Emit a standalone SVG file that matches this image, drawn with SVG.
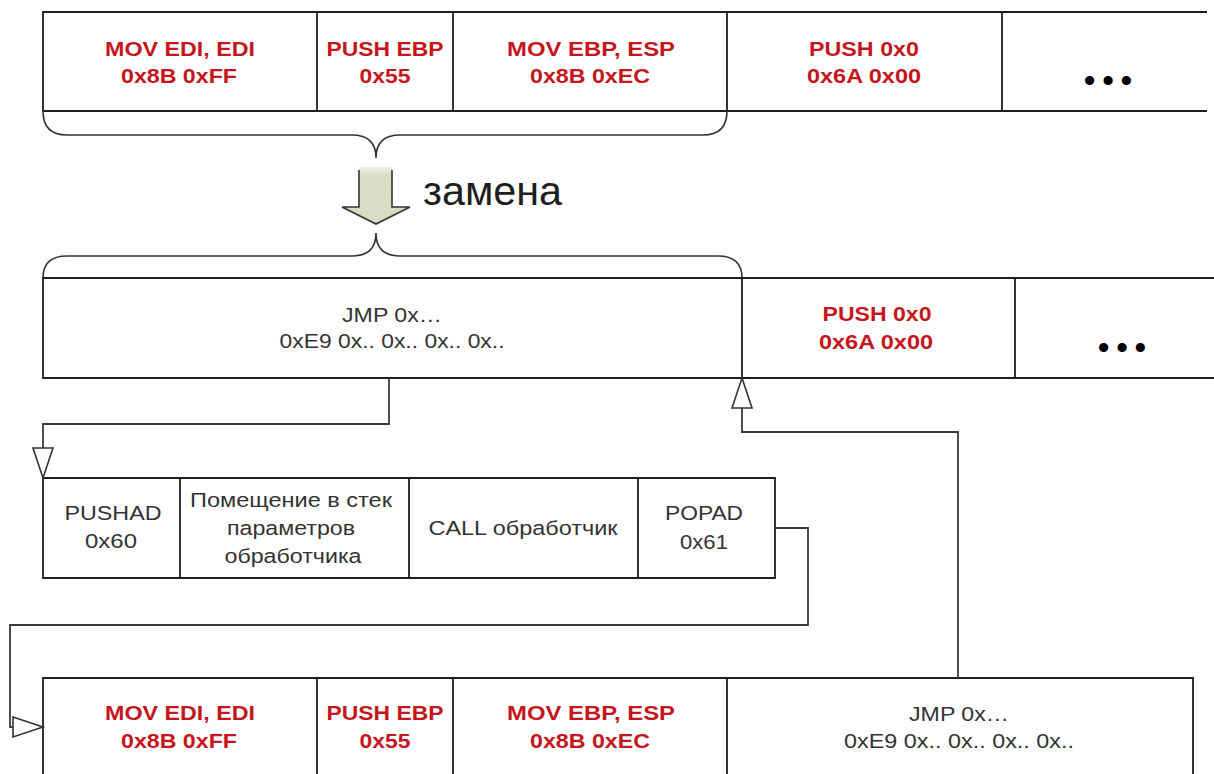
<svg xmlns="http://www.w3.org/2000/svg" width="1214" height="774" viewBox="0 0 1214 774">
<defs>
<style>
.ln{stroke:#1e1e1e;stroke-width:1.8;fill:none}
.cn{stroke:#3a3a3a;stroke-width:1.8;fill:none}
.br{stroke:#333;stroke-width:1.6;fill:none}
.r{font-family:"Liberation Sans",Arial,sans-serif;font-weight:bold;font-size:19.5px;fill:#c5161d;text-anchor:middle}
.t{font-family:"Liberation Sans",Arial,sans-serif;font-size:20.5px;fill:#333;text-anchor:middle}
.d{font-family:"Liberation Sans",Arial,sans-serif;font-weight:bold;font-size:32px;fill:#000;text-anchor:middle}
</style>
<marker id="tri" viewBox="0 0 30 20" refX="30" refY="10" markerWidth="30" markerHeight="20" markerUnits="userSpaceOnUse" orient="auto" overflow="visible">
<path d="M0,0 L30,10 L0,20 Z" fill="#fff" stroke="#333" stroke-width="1.6"/>
</marker>
<linearGradient id="ag" x1="0" y1="0" x2="0" y2="1">
<stop offset="0" stop-color="#eef0e4"/>
<stop offset="0.15" stop-color="#dbdfc7"/>
<stop offset="1" stop-color="#d8dcc3"/>
</linearGradient>
</defs>
<rect width="1214" height="774" fill="#fff"/>

<g id="original-row">
<path class="ln" d="M1207,12 H43 V111 H1207 M317,12 V111 M453,12 V111 M727,12 V111 M1002,12 V111"/>
<text class="r" x="180" y="56" textLength="150" lengthAdjust="spacingAndGlyphs">MOV EDI, EDI</text>
<text class="r" x="179" y="83" textLength="116" lengthAdjust="spacingAndGlyphs">0x8B 0xFF</text>
<text class="r" x="385" y="56" textLength="117" lengthAdjust="spacingAndGlyphs">PUSH EBP</text>
<text class="r" x="385" y="83" textLength="51" lengthAdjust="spacingAndGlyphs">0x55</text>
<text class="r" x="591" y="56" textLength="168" lengthAdjust="spacingAndGlyphs">MOV EBP, ESP</text>
<text class="r" x="590" y="83" textLength="120" lengthAdjust="spacingAndGlyphs">0x8B 0xEC</text>
<text class="r" x="864" y="56" textLength="110" lengthAdjust="spacingAndGlyphs">PUSH 0x0</text>
<text class="r" x="864" y="83" textLength="114" lengthAdjust="spacingAndGlyphs">0x6A 0x00</text>
<text class="d" x="1108" y="91" textLength="48" lengthAdjust="spacing">•••</text>
</g>

<g id="brace-top">
<path class="br" d="M43,111 Q43,135 67,135 L352,135 Q376,135 376,158 Q376,135 400,135 L703,135 Q727,135 727,111"/>
</g>

<g id="replace-arrow">
<path d="M359,167 L392,167 L392,207 L410,207 L376,224 L342,207 L359,207 Z" fill="url(#ag)"/>
<path class="br" d="M359,170 L359,207 L342,207 L376,224 L410,207 L392,207 L392,170"/>
<text x="423" y="205" font-family="Liberation Sans, Arial, sans-serif" font-size="40" fill="#1e1e1e" textLength="139" lengthAdjust="spacingAndGlyphs">замена</text>
</g>

<g id="brace-middle">
<path class="br" d="M43,278 Q43,256 67,256 L352,256 Q376,256 376,233 Q376,256 400,256 L718,256 Q742,256 742,278"/>
</g>

<g id="patched-row">
<path class="ln" d="M1214,278 H43 V378 H1214 M742,278 V378 M1015,278 V378"/>
<text class="t" x="392" y="322" textLength="100" lengthAdjust="spacingAndGlyphs">JMP 0x…</text>
<text class="t" x="392" y="348" textLength="225" lengthAdjust="spacingAndGlyphs">0xE9 0x.. 0x.. 0x.. 0x..</text>
<text class="r" x="877" y="321" textLength="109" lengthAdjust="spacingAndGlyphs">PUSH 0x0</text>
<text class="r" x="876" y="349" textLength="114" lengthAdjust="spacingAndGlyphs">0x6A 0x00</text>
<text class="d" x="1122" y="358" textLength="48" lengthAdjust="spacing">•••</text>
</g>

<g id="handler-row">
<path class="ln" d="M43,478 H775 V578 H43 Z M180,478 V578 M409,478 V578 M638,478 V578"/>
<text class="t" x="113" y="520" textLength="97" lengthAdjust="spacingAndGlyphs">PUSHAD</text>
<text class="t" x="111" y="548" textLength="52" lengthAdjust="spacingAndGlyphs">0x60</text>
<text class="t" x="291" y="507" textLength="202" lengthAdjust="spacingAndGlyphs">Помещение в стек</text>
<text class="t" x="291" y="535" textLength="128" lengthAdjust="spacingAndGlyphs">параметров</text>
<text class="t" x="293" y="563" textLength="137" lengthAdjust="spacingAndGlyphs">обработчика</text>
<text class="t" x="523" y="535" textLength="189" lengthAdjust="spacingAndGlyphs">CALL обработчик</text>
<text class="t" x="704" y="520" textLength="78" lengthAdjust="spacingAndGlyphs">POPAD</text>
<text class="t" x="704" y="549" textLength="48" lengthAdjust="spacingAndGlyphs">0x61</text>
</g>

<g id="trampoline-row">
<path class="ln" d="M43,774 V678 H1193 V774 M317,678 V774 M453,678 V774 M727,678 V774"/>
<text class="r" x="180" y="720" textLength="150" lengthAdjust="spacingAndGlyphs">MOV EDI, EDI</text>
<text class="r" x="179" y="748" textLength="116" lengthAdjust="spacingAndGlyphs">0x8B 0xFF</text>
<text class="r" x="385" y="720" textLength="117" lengthAdjust="spacingAndGlyphs">PUSH EBP</text>
<text class="r" x="385" y="748" textLength="51" lengthAdjust="spacingAndGlyphs">0x55</text>
<text class="r" x="591" y="720" textLength="168" lengthAdjust="spacingAndGlyphs">MOV EBP, ESP</text>
<text class="r" x="590" y="748" textLength="120" lengthAdjust="spacingAndGlyphs">0x8B 0xEC</text>
<text class="t" x="959" y="721" textLength="100" lengthAdjust="spacingAndGlyphs">JMP 0x…</text>
<text class="t" x="959" y="748" textLength="230" lengthAdjust="spacingAndGlyphs">0xE9 0x.. 0x.. 0x.. 0x..</text>
</g>

<g id="connectors">
<path class="cn" d="M389,378 V424 H43 V478" marker-end="url(#tri)"/>
<path class="cn" d="M775,528 H808 V625 H10 V727 H43" marker-end="url(#tri)"/>
<path class="cn" d="M958,678 V432 H742 V378" marker-end="url(#tri)"/>
</g>
</svg>
